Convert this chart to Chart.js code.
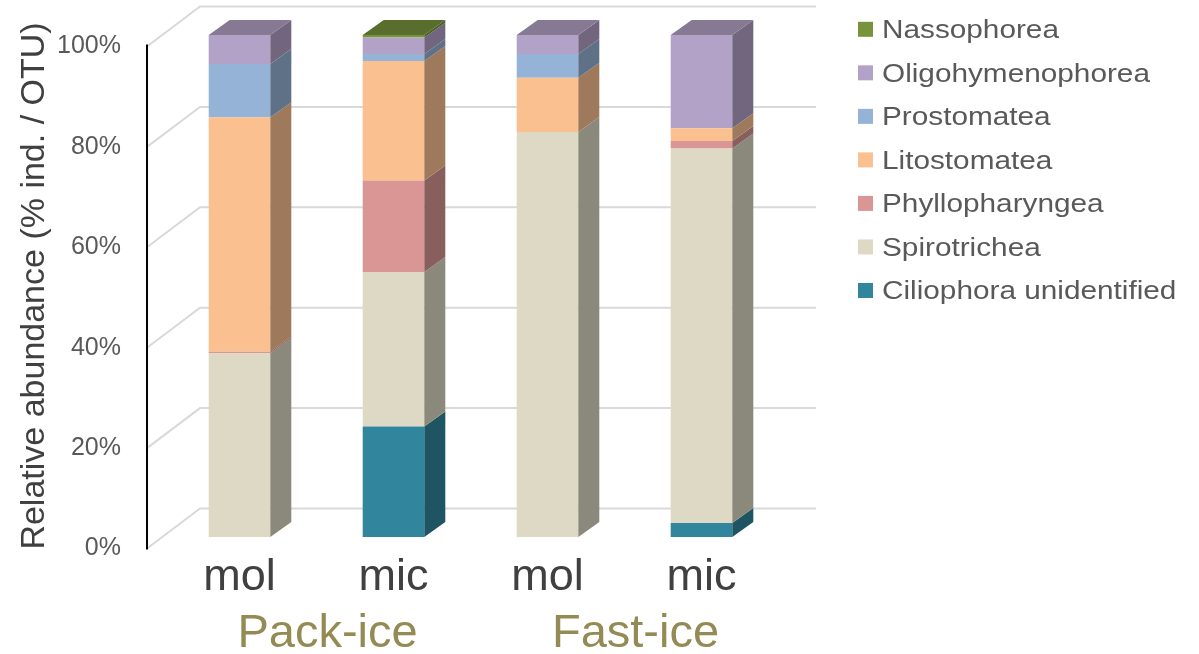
<!DOCTYPE html>
<html>
<head>
<meta charset="utf-8">
<title>Ciliate classes – relative abundance</title>
<script src="https://cdn.jsdelivr.net/npm/chart.js@4.4.1/dist/chart.umd.min.js"></script>
<style>
  html, body { margin: 0; padding: 0; background: #ffffff; }
  #wrap { position: relative; width: 1199px; height: 654px; }
</style>
</head>
<body>
<div id="wrap"><canvas id="chart"></canvas></div>
<script>
// ---- data (percent of individuals / OTUs per sample) ----
const categories = ['mol', 'mic', 'mol', 'mic'];
const groups = ['Pack-ice', 'Fast-ice'];
const tickValues = [0, 20, 40, 60, 80, 100];

const ciliophoraUnidentified = [0, 22.0, 0, 2.8];
const spirotrichea          = [36.6, 30.8, 80.7, 74.6];
const phyllopharyngea       = [0.3, 18.2, 0, 1.5];
const litostomatea          = [46.7, 23.8, 10.8, 2.5];
const prostomatea           = [10.6, 1.4, 4.7, 0];
const oligohymenophorea     = [5.8, 3.3, 3.8, 18.6];
const nassophorea           = [0, 0.5, 0, 0];

// stacking order, bottom to top
const seriesNames  = ['Ciliophora unidentified', 'Spirotrichea', 'Phyllopharyngea',
                      'Litostomatea', 'Prostomatea', 'Oligohymenophorea', 'Nassophorea'];
const seriesValues = [ciliophoraUnidentified, spirotrichea, phyllopharyngea,
                      litostomatea, prostomatea, oligohymenophorea, nassophorea];
const seriesColors = ['#31859C', '#DDD9C4', '#D99694', '#FAC090', '#95B3D7', '#B3A2C7', '#77933C'];

// ---- 3D look: offsets relative to the bars' front plane ----
const BAR_DEPTH = { dx: 21, dy: 15 };    // extrusion of each column
const WALL = { dx: 37.5, dy: -28.5 };    // back wall (gridlines)
const FRONT = { dx: -15.5, dy: 11.5 };   // front edge of the floor / value axis
const SIDE_SHADE = 0.63;
const TOP_SHADE = 0.745;

function shade(hex, f) {
  const n = parseInt(hex.slice(1), 16);
  const r = Math.round(((n >> 16) & 255) * f);
  const g = Math.round(((n >> 8) & 255) * f);
  const b = Math.round((n & 255) * f);
  return `rgb(${r},${g},${b})`;
}

const depthPlugin = {
  id: 'depth3d',
  beforeDatasetsDraw(chart) {
    const { ctx, chartArea: a, scales: { y } } = chart;
    ctx.save();
    // back-wall gridlines with their diagonal run across the floor/side
    ctx.strokeStyle = '#D9D9D9';
    ctx.lineWidth = 2;
    tickValues.forEach(v => {
      const py = y.getPixelForValue(v);
      ctx.beginPath();
      ctx.moveTo(a.left + FRONT.dx, py + FRONT.dy);
      ctx.lineTo(a.left + WALL.dx, py + WALL.dy);
      ctx.lineTo(a.right + WALL.dx, py + WALL.dy);
      ctx.stroke();
    });
    // value axis line on the front edge
    ctx.strokeStyle = '#000000';
    ctx.lineWidth = 2;
    ctx.beginPath();
    ctx.moveTo(a.left + FRONT.dx, y.getPixelForValue(100) + FRONT.dy - 2);
    ctx.lineTo(a.left + FRONT.dx, y.getPixelForValue(0) + FRONT.dy + 1);
    ctx.stroke();
    ctx.restore();
  },
  afterDatasetsDraw(chart) {
    const { ctx } = chart;
    const n = chart.data.labels.length;
    ctx.save();
    // right-hand side faces of every segment
    chart.data.datasets.forEach((ds, i) => {
      const meta = chart.getDatasetMeta(i);
      meta.data.forEach((el, j) => {
        if (!(ds.data[j] > 0)) return;
        const right = el.x + el.width / 2;
        ctx.fillStyle = shade(ds.backgroundColor, SIDE_SHADE);
        ctx.beginPath();
        ctx.moveTo(right, el.y);
        ctx.lineTo(right + BAR_DEPTH.dx, el.y - BAR_DEPTH.dy);
        ctx.lineTo(right + BAR_DEPTH.dx, el.base - BAR_DEPTH.dy);
        ctx.lineTo(right, el.base);
        ctx.closePath();
        ctx.fill();
      });
    });
    // top face of each column, coloured by its uppermost segment
    for (let j = 0; j < n; j++) {
      for (let i = chart.data.datasets.length - 1; i >= 0; i--) {
        const ds = chart.data.datasets[i];
        if (!(ds.data[j] > 0)) continue;
        const el = chart.getDatasetMeta(i).data[j];
        const left = el.x - el.width / 2;
        const right = el.x + el.width / 2;
        ctx.fillStyle = shade(ds.backgroundColor, TOP_SHADE);
        ctx.beginPath();
        ctx.moveTo(left, el.y);
        ctx.lineTo(left + BAR_DEPTH.dx, el.y - BAR_DEPTH.dy);
        ctx.lineTo(right + BAR_DEPTH.dx, el.y - BAR_DEPTH.dy);
        ctx.lineTo(right, el.y);
        ctx.closePath();
        ctx.fill();
        break;
      }
    }
    ctx.restore();
  }
};

// legend on the right, top entry = top of the stack
const LEGEND = { boxX: 858, box: 15, textX: 882, top: 29.3, step: 43.53, font: 25, stretch: 1.19 };
const legendPlugin = {
  id: 'sideLegend',
  afterDraw(chart) {
    const { ctx } = chart;
    const sets = chart.data.datasets;
    ctx.save();
    ctx.font = `${LEGEND.font}px 'Liberation Sans', Arial, sans-serif`;
    ctx.textBaseline = 'alphabetic';
    ctx.textAlign = 'left';
    for (let r = 0; r < sets.length; r++) {
      const ds = sets[sets.length - 1 - r];
      const cy = LEGEND.top + r * LEGEND.step;
      ctx.fillStyle = ds.backgroundColor;
      ctx.fillRect(LEGEND.boxX, cy - LEGEND.box / 2, LEGEND.box, LEGEND.box);
      ctx.fillStyle = '#595959';
      ctx.save();
      ctx.translate(LEGEND.textX, cy + LEGEND.font * 0.716 / 2);
      ctx.scale(LEGEND.stretch, 1);
      ctx.fillText(ds.label, 0, 0);
      ctx.restore();
    }
    ctx.restore();
  }
};

Chart.defaults.font.family = "'Liberation Sans', Arial, sans-serif";

new Chart(document.getElementById('chart'), {
  type: 'bar',
  data: {
    labels: categories,
    datasets: seriesNames.map((name, i) => ({
      label: name,
      data: seriesValues[i],
      backgroundColor: seriesColors[i],
      borderWidth: 0,
      barPercentage: 0.4,
      categoryPercentage: 1.0,
      xAxisID: 'x',
      yAxisID: 'y'
    }))
  },
  options: {
    responsive: true,
    maintainAspectRatio: false,
    animation: false,
    layout: { padding: { left: 0, top: 35, right: 420.5, bottom: 0 } },
    plugins: {
      legend: { display: false },
      tooltip: { enabled: false }
    },
    scales: {
      x: {
        type: 'category',
        stacked: true,
        weight: 0,
        grid: { display: false, drawTicks: false },
        border: { display: false },
        ticks: { color: '#404040', font: { size: 45 }, padding: 14, maxRotation: 0 },
        afterFit: s => { s.height = 60; s.paddingLeft = 0; s.paddingRight = 0; }
      },
      x2: {
        type: 'category',
        labels: groups,
        position: 'bottom',
        weight: 1,
        offset: true,
        grid: { display: false, drawTicks: false },
        border: { display: false },
        ticks: { color: '#948A54', font: { size: 47 }, padding: 8.5, labelOffset: 11, maxRotation: 0 },
        afterFit: s => { s.height = 57; s.paddingLeft = 0; s.paddingRight = 0; }
      },
      y: {
        stacked: true,
        min: 0,
        max: 100,
        grid: { display: false, drawTicks: false },
        border: { display: false },
        afterBuildTicks: s => { s.ticks = tickValues.map(v => ({ value: v })); },
        ticks: {
          color: '#595959',
          font: { size: 25 },
          padding: 41.5,
          labelOffset: 11.5,
          callback: v => v + '%'
        },
        title: {
          display: true,
          text: 'Relative abundance (% ind. / OTU)',
          color: '#404040',
          font: { size: 34 },
          padding: { top: 14, bottom: 0 }
        },
        afterFit: s => { s.width = 162.5; s.paddingTop = 0; s.paddingBottom = 0; }
      }
    }
  },
  plugins: [depthPlugin, legendPlugin]
});
</script>
</body>
</html>
